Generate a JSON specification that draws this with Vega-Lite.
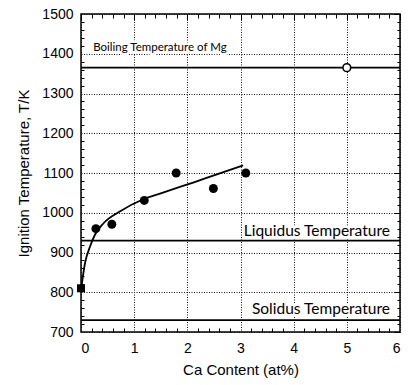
{
  "$schema": "https://vega.github.io/schema/vega-lite/v6.json",
  "width": 319,
  "height": 318,
  "autosize": {"type": "none"},
  "padding": {"left": 81, "top": 14, "right": 8, "bottom": 53},
  "background": "white",
  "config": {
    "view": {"stroke": "black", "strokeWidth": 1.5},
    "axis": {
      "domain": false,
      "labelFont": "Liberation Sans",
      "titleFont": "Liberation Sans",
      "labelFontSize": 14,
      "titleFontSize": 15,
      "titleFontWeight": "normal",
      "labelColor": "black",
      "titleColor": "black",
      "tickColor": "black",
      "gridColor": "#111111",
      "gridDash": [1, 1.5],
      "gridOpacity": 1,
      "gridWidth": 1,
      "format": "d"
    }
  },
  "datasets": {
    "measured": [
      {"ca": 0.28, "temp": 960},
      {"ca": 0.58, "temp": 971},
      {"ca": 1.19, "temp": 1031},
      {"ca": 1.79, "temp": 1100},
      {"ca": 2.49, "temp": 1061},
      {"ca": 3.1, "temp": 1100}
    ],
    "pure": [{"ca": 0, "temp": 810}],
    "fit": [
      {"ca": 0, "temp": 805},
      {"ca": 0.075, "temp": 873},
      {"ca": 0.17, "temp": 915},
      {"ca": 0.26, "temp": 944},
      {"ca": 0.42, "temp": 973},
      {"ca": 0.73, "temp": 1003},
      {"ca": 1.17, "temp": 1034},
      {"ca": 1.5, "temp": 1049},
      {"ca": 1.86, "temp": 1065},
      {"ca": 2.11, "temp": 1076},
      {"ca": 2.5, "temp": 1094},
      {"ca": 3.05, "temp": 1119}
    ],
    "limits": [
      {"name": "Boiling Temperature of Mg", "temp": 1365},
      {"name": "Liquidus Temperature", "temp": 930},
      {"name": "Solidus Temperature", "temp": 730}
    ],
    "boiling": [{"ca": 5, "temp": 1365}],
    "boilingNote": [
      {"text": "Boiling Temperature of Mg", "ca": 0.23, "temp": 1414}
    ],
    "phaseNotes": [
      {"text": "Liquidus Temperature", "ca": 5.81, "temp": 954},
      {"text": "Solidus Temperature", "ca": 5.81, "temp": 758}
    ]
  },
  "resolve": {"axis": {"x": "independent", "y": "independent"}},
  "layer": [
    {
      "data": {"name": "boilingNote"},
      "mark": {"type": "text", "font": "Lato", "fontSize": 11.5, "align": "left", "baseline": "middle", "color": "white", "stroke": "white", "strokeWidth": 5},
      "encoding": {
        "x": {"field": "ca", "type": "quantitative", "scale": {"domain": [0, 6], "nice": false, "zero": false}, "axis": null},
        "y": {"field": "temp", "type": "quantitative", "scale": {"domain": [700, 1500], "nice": false, "zero": false}, "axis": null},
        "text": {"field": "text"}
      }
    },
    {
      "data": {"name": "phaseNotes"},
      "mark": {"type": "text", "font": "Lato", "fontSize": 15.5, "align": "right", "baseline": "middle", "color": "white", "stroke": "white", "strokeWidth": 5},
      "encoding": {
        "x": {"field": "ca", "type": "quantitative", "scale": {"domain": [0, 6], "nice": false, "zero": false}, "axis": null},
        "y": {"field": "temp", "type": "quantitative", "scale": {"domain": [700, 1500], "nice": false, "zero": false}, "axis": null},
        "text": {"field": "text"}
      }
    },
    {
      "data": {"name": "limits"},
      "mark": {"type": "rule", "color": "black", "strokeWidth": 1.6},
      "encoding": {
        "y": {
          "field": "temp", "type": "quantitative",
          "scale": {"domain": [700, 1500], "nice": false, "zero": false},
          "axis": {
            "orient": "left", "values": [700, 800, 900, 1000, 1100, 1200, 1300, 1400, 1500],
            "grid": true, "ticks": false, "labelPadding": 8,
            "title": "Ignition Temperature, T/K", "titlePadding": 10
          }
        }
      }
    },
    {
      "data": {"name": "fit"},
      "mark": {"type": "line", "color": "black", "strokeWidth": 1.8, "interpolate": "monotone"},
      "encoding": {
        "x": {
          "field": "ca", "type": "quantitative",
          "scale": {"domain": [0, 6], "nice": false, "zero": false},
          "axis": {
            "orient": "bottom", "values": [0, 1, 2, 3, 4, 5, 6],
            "grid": true, "ticks": false, "labelPadding": 9,
            "title": "Ca Content (at%)", "titlePadding": 7
          }
        },
        "y": {
          "field": "temp", "type": "quantitative",
          "scale": {"domain": [700, 1500], "nice": false, "zero": false},
          "axis": {
            "orient": "right", "values": [700, 800, 900, 1000, 1100, 1200, 1300, 1400, 1500],
            "grid": false, "labels": false, "tickSize": -6, "title": null
          }
        }
      }
    },
    {
      "data": {"name": "measured"},
      "mark": {"type": "circle", "color": "black", "opacity": 1, "size": 80},
      "encoding": {
        "x": {
          "field": "ca", "type": "quantitative",
          "scale": {"domain": [0, 6], "nice": false, "zero": false},
          "axis": {
            "orient": "top", "values": [0, 1, 2, 3, 4, 5, 6],
            "grid": false, "labels": false, "tickSize": -6, "title": null
          }
        },
        "y": {
          "field": "temp", "type": "quantitative",
          "scale": {"domain": [700, 1500], "nice": false, "zero": false},
          "axis": {
            "orient": "left",
            "values": [720, 740, 760, 780, 820, 840, 860, 880, 920, 940, 960, 980, 1020, 1040, 1060, 1080, 1120, 1140, 1160, 1180, 1220, 1240, 1260, 1280, 1320, 1340, 1360, 1380, 1420, 1440, 1460, 1480],
            "grid": false, "labels": false, "tickSize": -3, "title": null
          }
        }
      }
    },
    {
      "data": {"name": "pure"},
      "mark": {"type": "square", "color": "black", "filled": true, "opacity": 1, "size": 64},
      "encoding": {
        "x": {
          "field": "ca", "type": "quantitative",
          "scale": {"domain": [0, 6], "nice": false, "zero": false},
          "axis": {
            "orient": "bottom",
            "values": [0.2, 0.4, 0.6, 0.8, 1.2, 1.4, 1.6, 1.8, 2.2, 2.4, 2.6, 2.8, 3.2, 3.4, 3.6, 3.8, 4.2, 4.4, 4.6, 4.8, 5.2, 5.4, 5.6, 5.8],
            "grid": false, "labels": false, "tickSize": -4, "title": null
          }
        },
        "y": {
          "field": "temp", "type": "quantitative",
          "scale": {"domain": [700, 1500], "nice": false, "zero": false},
          "axis": {
            "orient": "right",
            "values": [720, 740, 760, 780, 820, 840, 860, 880, 920, 940, 960, 980, 1020, 1040, 1060, 1080, 1120, 1140, 1160, 1180, 1220, 1240, 1260, 1280, 1320, 1340, 1360, 1380, 1420, 1440, 1460, 1480],
            "grid": false, "labels": false, "tickSize": -3, "title": null
          }
        }
      }
    },
    {
      "data": {"name": "boiling"},
      "mark": {"type": "point", "shape": "circle", "filled": true, "fill": "white", "stroke": "black", "strokeWidth": 1.6, "opacity": 1, "size": 60},
      "encoding": {
        "x": {
          "field": "ca", "type": "quantitative",
          "scale": {"domain": [0, 6], "nice": false, "zero": false},
          "axis": {
            "orient": "top",
            "values": [0.2, 0.4, 0.6, 0.8, 1.2, 1.4, 1.6, 1.8, 2.2, 2.4, 2.6, 2.8, 3.2, 3.4, 3.6, 3.8, 4.2, 4.4, 4.6, 4.8, 5.2, 5.4, 5.6, 5.8],
            "grid": false, "labels": false, "tickSize": -4, "title": null
          }
        },
        "y": {
          "field": "temp", "type": "quantitative",
          "scale": {"domain": [700, 1500], "nice": false, "zero": false},
          "axis": null
        }
      }
    },
    {
      "data": {"name": "boilingNote"},
      "mark": {"type": "text", "font": "Lato", "fontSize": 11.5, "align": "left", "baseline": "middle", "color": "black"},
      "encoding": {
        "x": {"field": "ca", "type": "quantitative", "scale": {"domain": [0, 6], "nice": false, "zero": false}, "axis": null},
        "y": {"field": "temp", "type": "quantitative", "scale": {"domain": [700, 1500], "nice": false, "zero": false}, "axis": null},
        "text": {"field": "text"}
      }
    },
    {
      "data": {"name": "phaseNotes"},
      "mark": {"type": "text", "font": "Lato", "fontSize": 15.5, "align": "right", "baseline": "middle", "color": "black"},
      "encoding": {
        "x": {"field": "ca", "type": "quantitative", "scale": {"domain": [0, 6], "nice": false, "zero": false}, "axis": null},
        "y": {"field": "temp", "type": "quantitative", "scale": {"domain": [700, 1500], "nice": false, "zero": false}, "axis": null},
        "text": {"field": "text"}
      }
    }
  ]
}
